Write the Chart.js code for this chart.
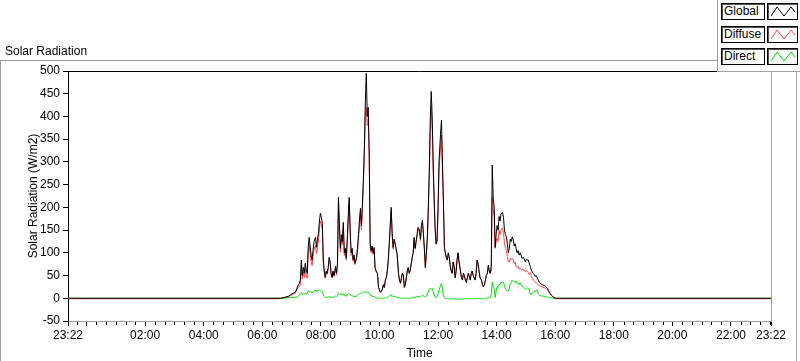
<!DOCTYPE html>
<html>
<head>
<meta charset="utf-8">
<script src="https://cdn.jsdelivr.net/npm/chart.js@4.4.1/dist/chart.umd.min.js"></script>
<style>
  body { margin: 0; background: #fff; overflow: hidden; }
  #wrap { position: relative; width: 800px; height: 361px; }
  #legend {
    position: absolute; left: 717px; top: -1px; width: 90px; height: 72px;
    background: #fff; border-left: 1px solid #a0a0a0; border-bottom: 1px solid #a0a0a0;
    font: 12px "Liberation Sans", Arial, sans-serif;
  }
  .lab, .sw { position: absolute; height: 15px; border: 1px solid #000; box-shadow: inset 1px 1px 0 #555; background: #fff; }
  .lab { left: 3px; width: 40px; line-height: 15px; padding-left: 2px; box-sizing: content-box; }
  .sw { left: 49px; width: 29px; }
</style>
</head>
<body>
<div id="wrap">
  <canvas id="chart" width="800" height="361"></canvas>
  <div id="legend"></div>
</div>
<script>
// ---------------- data (minutes of the day, W/m2) ----------------
const seriesNames = ['Global', 'Diffuse', 'Direct'];
const seriesColors = ['#000000', '#ff4646', '#00e000'];

const times = [-38, 397, 405, 413, 421, 428, 432, 436, 438,
  440, 442, 444, 446, 448, 450, 452, 454, 456, 458, 460, 462, 464, 466,
  469, 471, 473, 475, 477, 479, 481, 483, 485, 487, 489, 491, 493, 495, 497, 499, 501, 503, 505, 507,
  510, 512, 514, 516, 518, 520, 522, 524, 526, 528, 530, 532, 534, 536, 538, 540, 542, 544, 546, 548, 550,
  553, 555, 557, 559, 561, 563, 565, 567, 569, 571, 573, 575, 577, 579, 581, 583, 585, 587, 589, 591, 593,
  596, 598, 600, 602, 604, 606, 608, 610, 612, 614, 616, 618, 620, 622, 624, 626, 628, 630, 632, 634, 636,
  639, 641, 643, 645, 647, 649, 651, 653, 655, 657, 659, 661, 663, 665, 667, 669, 671, 673, 675, 677, 679,
  682, 684, 686, 688, 690, 692, 694, 696, 698, 700, 702, 704, 706, 708, 710, 712, 714, 716, 718, 720, 722,
  725, 727, 729, 731, 733, 735, 737, 739, 741, 743, 745, 747, 749, 751, 753, 755, 757, 759, 761, 763,
  766, 768, 770, 772, 774, 776, 778, 780, 782, 784, 786, 788, 790, 792, 794, 796, 798, 800, 802, 804, 806,
  809, 811, 813, 815, 817, 819, 821, 823, 825, 827, 829, 831, 833, 835, 837, 839, 841, 843, 845, 847, 849,
  852, 854, 856, 858, 860, 862, 864, 866, 868, 870, 872, 874, 876, 878, 880, 882, 884, 886, 888, 890, 892,
  895, 897, 899, 901, 903, 905, 907, 909, 911, 913, 915, 917, 919, 921, 923, 925, 927, 929, 931, 933, 935,
  938, 940, 942, 944, 946, 948, 950, 952, 954, 956, 958, 962, 1402];

const globalRad = [0, 0, 2, 4, 10, 14, 25, 33, 40,
  84, 50, 68, 55, 77, 62, 55, 112, 134, 115, 95, 84, 106, 125,
  134, 112, 130, 143, 170, 187, 178, 165, 84, 60, 46, 60, 55, 68, 90, 80, 55, 46, 60, 50,
  70, 55, 77, 222, 160, 110, 140, 125, 167, 100, 110, 88, 130, 180, 222, 150, 100, 110, 85, 95, 77,
  90, 110, 140, 170, 198, 160, 205, 260, 330, 430, 495, 400, 420, 320, 120, 105, 115, 100, 112, 68, 60,
  55, 24, 18, 13, 15, 20, 30, 24, 40, 46, 60, 84, 120, 160, 200, 143, 112, 130, 121, 110, 99,
  55, 40, 33, 45, 55, 50, 24, 30, 45, 60, 68, 55, 62, 75, 90, 100, 134, 110, 125, 140, 156,
  150, 130, 160, 172, 143, 110, 68, 100, 134, 200, 280, 390, 455, 400, 300, 220, 156, 120, 128, 200, 300,
  360, 392, 300, 216, 112, 100, 90, 84, 100, 90, 70, 60, 55, 80, 70, 45, 60, 85, 100, 80,
  60, 45, 40, 55, 50, 40, 35, 45, 55, 48, 40, 55, 60, 50, 45, 40, 55, 84, 75, 60, 45,
  40, 30, 25, 30, 40, 50, 55, 73, 60, 55, 70, 293, 220, 200, 112, 140, 160, 150, 180, 170, 185,
  189, 178, 150, 140, 135, 120, 100, 110, 130, 125, 135, 130, 115, 120, 110, 100, 105, 95, 100, 95, 88,
  90, 84, 80, 86, 84, 84, 75, 70, 62, 58, 55, 52, 48, 50, 46, 40, 36, 34, 32, 30, 29,
  28, 26, 24, 22, 18, 14, 10, 7, 5, 3, 1, 0, 0];

const diffuseRad = [-1, -1, 2, 3, 8, 12, 22, 26, 30,
  72, 42, 58, 46, 66, 52, 44, 96, 118, 100, 82, 72, 92, 108,
  116, 98, 112, 126, 152, 170, 162, 150, 76, 56, 44, 58, 53, 66, 86, 77, 53, 45, 57, 48,
  65, 51, 71, 210, 150, 102, 130, 118, 157, 94, 104, 84, 122, 170, 212, 141, 94, 104, 81, 90, 74,
  86, 104, 131, 160, 186, 150, 192, 246, 316, 400, 420, 380, 395, 305, 112, 100, 110, 96, 108, 66, 59,
  54, 24, 18, 13, 15, 20, 30, 24, 39, 45, 58, 81, 115, 153, 192, 138, 108, 126, 118, 107, 97,
  54, 39, 33, 45, 55, 50, 24, 30, 45, 60, 68, 55, 62, 74, 89, 99, 131, 108, 122, 137, 152,
  146, 127, 155, 166, 138, 106, 66, 95, 125, 185, 260, 365, 420, 370, 282, 210, 152, 118, 125, 190, 280,
  330, 360, 280, 210, 110, 99, 89, 84, 100, 90, 70, 60, 55, 80, 70, 45, 60, 85, 100, 80,
  60, 45, 40, 55, 50, 40, 35, 45, 55, 48, 40, 55, 60, 50, 45, 40, 55, 84, 75, 60, 45,
  40, 30, 25, 30, 40, 50, 55, 72, 59, 54, 62, 222, 196, 180, 110, 125, 132, 125, 150, 140, 150,
  155, 143, 122, 110, 105, 92, 80, 80, 88, 85, 88, 86, 76, 80, 70, 68, 70, 64, 66, 63, 62,
  64, 60, 58, 62, 60, 56, 52, 56, 50, 44, 40, 38, 36, 34, 32, 30, 28, 27, 26, 25, 24,
  23, 22, 20, 19, 16, 12, 9, 6, 4, 3, 1, -1, -1];

const directRad = [0, 0, 0, 1, 2, 2, 3, 7, 11,
  12, 8, 10, 9, 11, 10, 11, 16, 16, 15, 13, 12, 14, 17,
  18, 14, 18, 17, 18, 17, 16, 15, 8, 4, 2, 2, 2, 2, 4, 3, 2, 1, 3, 2,
  5, 4, 6, 12, 10, 8, 10, 7, 10, 6, 6, 4, 8, 10, 10, 9, 6, 6, 4, 5, 3,
  4, 6, 9, 10, 12, 10, 13, 14, 14, 12, 13, 14, 13, 12, 8, 5, 5, 4, 4, 2, 1,
  1, 0, 0, 0, 0, 0, 0, 0, 1, 1, 2, 3, 5, 7, 8, 5, 4, 4, 3, 3, 2,
  1, 1, 0, 0, 0, 0, 0, 0, 0, 0, 0, 0, 0, 1, 1, 1, 3, 2, 3, 3, 4,
  4, 3, 5, 6, 5, 4, 2, 5, 9, 15, 20, 22, 20, 22, 15, 8, 3, 1, 3, 10, 18,
  28, 33, 20, 6, 1, 0, 0, 0, -1, -1, -1, -1, -1, -1, -1, -2, -2, -2, -2, -2,
  -2, -2, -2, -2, -1, -1, -1, -1, -1, -1, -1, -1, -1, -1, -1, -1, 0, 0, 0, -1, -1,
  -1, -1, -1, -1, -1, 0, 0, 1, 1, 1, 8, 35, 25, 20, 2, 15, 25, 24, 30, 30, 35,
  35, 35, 28, 20, 18, 17, 16, 22, 32, 35, 40, 38, 36, 35, 38, 32, 33, 30, 34, 30, 26,
  24, 22, 20, 22, 20, 22, 18, 9, 8, 12, 14, 16, 14, 18, 18, 10, 8, 6, 5, 5, 5,
  4, 4, 3, 3, 2, 2, 1, 1, 1, 0, 0, 0, 0];

const xTickValues = [-38, 0, 120, 240, 360, 480, 600, 720, 840, 960, 1080, 1200, 1320, 1402];
const xMinorStep = 20;

// ---------------- helpers ----------------
function clock(m) {
    const v = (Math.round(m) + 1440) % 1440;
    return String(Math.floor(v / 60)).padStart(2, '0') + ':' + String(v % 60).padStart(2, '0');
}
function toPoints(values) {
    return values.map((v, i) => ({ x: times[i], y: v }));
}

Chart.defaults.font.family = '"Liberation Sans", Arial, sans-serif';
Chart.defaults.font.size = 12;
Chart.defaults.color = '#000';

const framePlugin = {
    id: 'frame',
    beforeDraw(chart) {
        const ctx = chart.ctx;
        ctx.save();
        ctx.fillStyle = '#fff';
        ctx.fillRect(0, 0, chart.width, chart.height);
        ctx.strokeStyle = '#a0a0a0';
        ctx.lineWidth = 1;
        ctx.strokeRect(0.5, 60.5, 796, 310);
        ctx.fillStyle = '#000';
        ctx.font = '12px "Liberation Sans", Arial, sans-serif';
        ctx.textBaseline = 'alphabetic';
        ctx.fillText('Solar Radiation', 5, 55);
        ctx.restore();
    },
    afterDraw(chart) {
        const ctx = chart.ctx;
        const area = chart.chartArea;
        const xs = chart.scales.x;
        ctx.save();
        ctx.lineWidth = 1;
        ctx.strokeStyle = '#000';
        ctx.beginPath();
        ctx.moveTo(area.left, area.top + 0.5);
        ctx.lineTo(area.right, area.top + 0.5);
        ctx.stroke();
        ctx.strokeStyle = '#a0a0a0';
        ctx.beginPath();
        ctx.moveTo(area.right + 0.5, area.top);
        ctx.lineTo(area.right + 0.5, area.bottom);
        ctx.stroke();
        // minor ticks on the time axis
        ctx.strokeStyle = '#000';
        ctx.beginPath();
        for (let v = -20; v < xs.max; v += xMinorStep) {
            if (xTickValues.includes(v)) continue;
            const px = Math.round(xs.getPixelForValue(v)) + 0.5;
            ctx.moveTo(px, area.bottom + 1);
            ctx.lineTo(px, area.bottom + 4);
        }
        ctx.stroke();
        ctx.restore();
    }
};

const datasets = [globalRad, diffuseRad, directRad].map((vals, i) => ({
    label: seriesNames[i],
    data: toPoints(vals),
    borderColor: seriesColors[i],
    borderWidth: 1,
    pointRadius: 0,
    tension: 0,
    fill: false
}));

const ctx = document.getElementById('chart');
const config = {
    type: 'line',
    data: { datasets: datasets },
    options: {
        responsive: false,
        animation: false,
        layout: { padding: { top: 71, right: 29, left: 0, bottom: 0 } },
        plugins: {
            legend: { display: false },
            tooltip: { enabled: false }
        },
        scales: {
            x: {
                type: 'linear',
                min: -38,
                max: 1402,
                afterBuildTicks: (scale) => {
                    scale.ticks = xTickValues.map(v => ({ value: v }));
                },
                afterFit: (scale) => { scale.height = 40; },
                title: {
                    display: true,
                    text: 'Time',
                    padding: { top: 0, bottom: 0 },
                    color: '#000'
                },
                grid: {
                    drawOnChartArea: false,
                    tickLength: 5,
                    color: '#000',
                    tickColor: '#000'
                },
                border: { color: '#a0a0a0' },
                ticks: {
                    autoSkip: false,
                    maxRotation: 0,
                    padding: 2,
                    color: '#000',
                    callback: (v) => (v === 0 ? '' : clock(v))
                }
            },
            y: {
                min: -50,
                max: 500,
                afterFit: (scale) => { scale.width = 68; },
                title: {
                    display: true,
                    text: 'Solar Radiation (W/m2)',
                    padding: { top: 26, bottom: 0 },
                    color: '#000'
                },
                grid: {
                    drawOnChartArea: false,
                    tickLength: 5,
                    color: '#000',
                    tickColor: '#000'
                },
                border: { color: '#000' },
                ticks: {
                    stepSize: 50,
                    padding: 3,
                    color: '#000'
                }
            }
        }
    },
    plugins: [framePlugin]
};
window.solarChart = new Chart(ctx, config);

// ---------------- legend ----------------
const legend = document.getElementById('legend');
const rowTops = [4, 27, 49];
seriesNames.forEach((name, i) => {
    const lab = document.createElement('div');
    lab.className = 'lab';
    lab.style.top = rowTops[i] + 'px';
    lab.textContent = name;
    legend.appendChild(lab);
    const sw = document.createElement('div');
    sw.className = 'sw';
    sw.style.top = rowTops[i] + 'px';
    sw.innerHTML = '<svg width="29" height="15"><polyline points="3,12 9,3 16,12 23,3 27,8" fill="none" stroke="' +
        seriesColors[i] + '" stroke-width="1"/></svg>';
    legend.appendChild(sw);
});
</script>
</body>
</html>
